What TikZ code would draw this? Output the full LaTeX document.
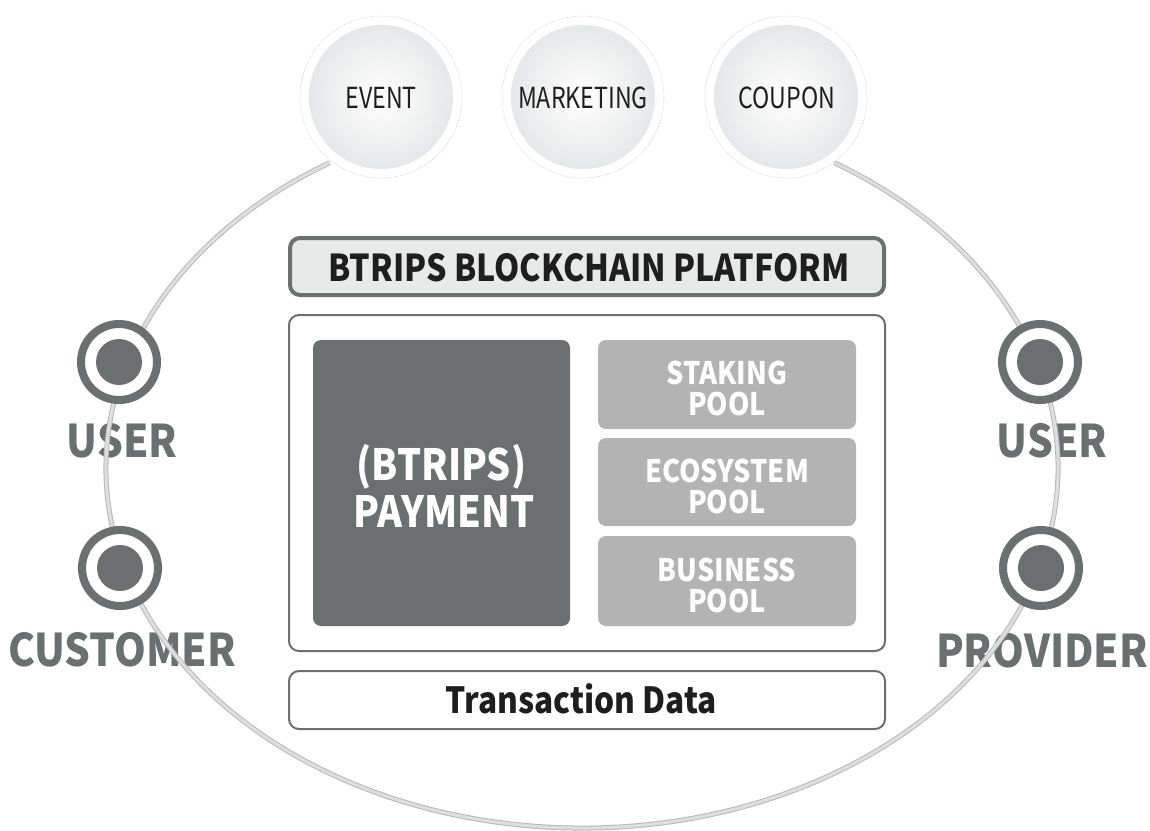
\documentclass[tikz,border=0pt]{standalone}
\usepackage{fontspec}
\setmainfont{Noto Sans CJK KR}
\newfontfamily\bubfont[FakeStretch=0.8]{Noto Sans CJK KR}
\newfontfamily\actfont[FakeStretch=0.9]{Noto Sans CJK KR}
\newfontfamily\payfont[FakeStretch=0.88]{Noto Sans CJK KR}
\newfontfamily\headfont[FakeStretch=0.87]{Noto Sans CJK KR}
\definecolor{darkg}{HTML}{6B6F70}
\definecolor{poolg}{HTML}{B3B3B3}
\definecolor{headfill}{HTML}{E8E9E9}
\definecolor{ringedge}{HTML}{B8B8B8}
\definecolor{ringfill}{HTML}{DEDEDE}
\definecolor{txt}{HTML}{1E1E1E}
\definecolor{bubshade}{HTML}{E6E7E8}
\begin{document}
\begin{tikzpicture}[x=1pt,y=1pt,
  panel/.style={draw=darkg, line width=2pt, rounded corners=10pt, fill=white},
  headbox/.style={draw=darkg, line width=4pt, rounded corners=10pt, fill=headfill,
     minimum width=594pt, minimum height=57pt},
  paybox/.style={fill=darkg, rounded corners=8pt, minimum width=257pt, minimum height=286pt},
  poolbox/.style={fill=poolg, rounded corners=8pt, minimum width=258pt},
  pooltext/.style={anchor=base, text=white, inner sep=0pt, font=\payfont\fontsize{31}{31}\selectfont\bfseries},
  paytext/.style={anchor=base, text=white, inner sep=0pt, font=\payfont\fontsize{43}{43}\selectfont\bfseries},
  bubble/.style={circle, minimum size=144pt, shading=radial, inner color=white, outer color=bubshade},
  bubtext/.style={anchor=base, text=txt, inner sep=0pt, font=\bubfont\fontsize{29}{29}\selectfont},
  bubrim/.style={circle, minimum size=162pt, draw=gray!45, densely dotted, line width=0.6pt, fill=white},
  actor/.style={anchor=base, inner sep=0pt, text=darkg, font=\actfont\fontsize{45}{45}\selectfont\bfseries},
  iconring/.style={circle, draw=darkg, line width=8pt, fill=white, minimum size=76pt},
  icondot/.style={circle, fill=darkg, minimum size=46pt, inner sep=0pt}
]
\useasboundingbox (0,0) rectangle (1150,-830);

% side labels (ring passes over them)
\node[actor] (lu) at (122,-457) {USER};
\node[actor] (lc) at (122,-666) {CUSTOMER};
\node[actor] (ru) at (1052,-457) {USER};
\node[actor] (rp) at (1042,-667) {PROVIDER};

% big ring
\draw[line width=5pt, color=ringedge] (582,-468) ++(122:476 and 360)
   arc[start angle=122, end angle=418, x radius=476, y radius=360];
\draw[line width=3pt, color=ringfill] (582,-468) ++(122:476 and 360)
   arc[start angle=122, end angle=418, x radius=476, y radius=360];

% top bubbles
\foreach \n/\x in {ev/381, mk/583, cp/786}{
  \node[bubrim] (\n rim) at (\x,-97) {};
  \node[bubble] (\n) at (\x,-97) {};
}
\node[bubtext] (evt) at (381,-108) {EVENT};
\node[bubtext] (mkt) at (583,-108) {MARKETING};
\node[bubtext] (cpt) at (787,-108) {COUPON};

% side icons
\foreach \n/\x/\y in {ilu/119/-362, ilc/120/-568, iru/1040/-362, irp/1041/-568}{
  \node[iconring] (\n) at (\x,\y) {};
  \node[icondot] (\n dot) at (\n) {};
}

% platform
\node[headbox] (hdr) at (587,-266.5) {};
\node[anchor=base, inner sep=0pt, text=txt, font=\headfont\fontsize{37}{37}\selectfont\bfseries]
   (hdrt) at (589,-281) {BTRIPS BLOCKCHAIN PLATFORM};
\node[panel, minimum width=596pt, minimum height=336pt] (main) at (587,-483) {};
\node[paybox] (pay) at (441.5,-483) {};
\node[paytext] (pay1) at (441.5,-480) {(BTRIPS)};
\node[paytext] (pay2) at (444,-527) {PAYMENT};
\node[poolbox, minimum height=89pt] (stk) at (727,-384.5) {};
\node[poolbox, minimum height=88pt] (eco) at (727,-482) {};
\node[poolbox, minimum height=90pt] (bus) at (727,-581) {};
\node[pooltext] (stk1) at (727,-384) {STAKING};
\node[pooltext] (stk2) at (727,-415) {POOL};
\node[pooltext] (eco1) at (727,-482) {ECOSYSTEM};
\node[pooltext] (eco2) at (727,-513) {POOL};
\node[pooltext] (bus1) at (727,-581) {BUSINESS};
\node[pooltext] (bus2) at (727,-612) {POOL};
\node[panel, minimum width=596pt, minimum height=58pt] (tx) at (587,-700) {};
\node[anchor=base, inner sep=0pt, text=txt, font=\payfont\fontsize{36}{36}\selectfont\bfseries]
   (txt) at (581.5,-713) {Transaction Data};
\end{tikzpicture}
\end{document}
